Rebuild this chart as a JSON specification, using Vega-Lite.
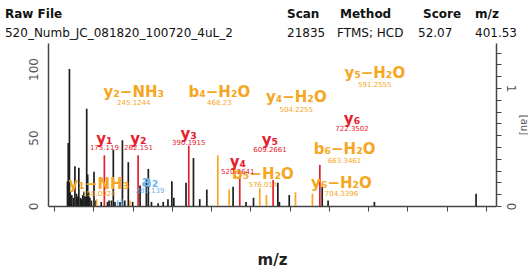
{
  "$schema": "https://vega.github.io/schema/vega-lite/v6.json",
  "width": 448,
  "height": 163,
  "autosize": {"type": "none"},
  "padding": {"left": 48, "top": 43, "right": 32, "bottom": 69},
  "background": "white",
  "config": {"view": {"stroke": null}, "font": "DejaVu Sans"},
  "layer": [
    {
      "layer": [
        {
          "data": {"values": [
            {"mz": 84, "int": 18, "ion": "other"}, {"mz": 86, "int": 46, "ion": "other"}, {"mz": 87, "int": 12, "ion": "other"},
            {"mz": 89, "int": 100, "ion": "other"}, {"mz": 91, "int": 10, "ion": "other"}, {"mz": 95, "int": 8, "ion": "other"},
            {"mz": 99, "int": 6, "ion": "other"}, {"mz": 103, "int": 29, "ion": "other"}, {"mz": 107, "int": 9, "ion": "other"},
            {"mz": 110, "int": 7, "ion": "other"}, {"mz": 113, "int": 28, "ion": "other"}, {"mz": 117, "int": 6, "ion": "other"},
            {"mz": 120, "int": 5, "ion": "other"}, {"mz": 123, "int": 8, "ion": "other"}, {"mz": 126, "int": 10, "ion": "other"},
            {"mz": 129, "int": 7, "ion": "other"}, {"mz": 133, "int": 71, "ion": "other"}, {"mz": 135.5, "int": 23, "ion": "other"},
            {"mz": 138, "int": 10, "ion": "other"}, {"mz": 141, "int": 6, "ion": "other"}, {"mz": 145, "int": 4, "ion": "other"},
            {"mz": 151.6, "int": 25, "ion": "other"}, {"mz": 156, "int": 4, "ion": "other"}, {"mz": 170, "int": 3, "ion": "other"},
            {"mz": 186, "int": 3, "ion": "other"}, {"mz": 190, "int": 4, "ion": "other"}, {"mz": 196, "int": 4, "ion": "other"},
            {"mz": 200.8, "int": 41, "ion": "other"}, {"mz": 205, "int": 3, "ion": "other"}, {"mz": 218, "int": 3, "ion": "other"},
            {"mz": 224, "int": 48, "ion": "other"}, {"mz": 230, "int": 4, "ion": "other"}, {"mz": 239, "int": 32, "ion": "other"},
            {"mz": 250, "int": 3, "ion": "other"}, {"mz": 269, "int": 15, "ion": "other"}, {"mz": 285, "int": 20, "ion": "other"},
            {"mz": 290, "int": 27, "ion": "other"}, {"mz": 298, "int": 3, "ion": "other"}, {"mz": 315, "int": 2, "ion": "other"},
            {"mz": 328, "int": 3, "ion": "other"}, {"mz": 340, "int": 5, "ion": "other"}, {"mz": 350, "int": 18, "ion": "other"},
            {"mz": 355, "int": 6, "ion": "other"}, {"mz": 386, "int": 17, "ion": "other"}, {"mz": 405, "int": 35, "ion": "other"},
            {"mz": 421, "int": 5, "ion": "other"}, {"mz": 439, "int": 12, "ion": "other"}, {"mz": 506, "int": 14, "ion": "other"},
            {"mz": 539, "int": 3, "ion": "other"}, {"mz": 558, "int": 6, "ion": "other"}, {"mz": 620, "int": 17, "ion": "other"},
            {"mz": 624, "int": 3, "ion": "other"}, {"mz": 649, "int": 8, "ion": "other"}, {"mz": 733, "int": 14, "ion": "other"},
            {"mz": 748, "int": 4, "ion": "other"}, {"mz": 866, "int": 3, "ion": "other"}, {"mz": 1125, "int": 9, "ion": "other"},
            {"mz": 158, "int": 5, "ion": "loss"}, {"mz": 243, "int": 4, "ion": "loss"}, {"mz": 467, "int": 37, "ion": "loss"},
            {"mz": 496, "int": 12, "ion": "loss"}, {"mz": 574, "int": 13, "ion": "loss"}, {"mz": 591, "int": 8, "ion": "loss"},
            {"mz": 665, "int": 10, "ion": "loss"}, {"mz": 708, "int": 9, "ion": "loss"},
            {"mz": 212, "int": 4, "ion": "a"}, {"mz": 222, "int": 5, "ion": "a"},
            {"mz": 178, "int": 37, "ion": "y"}, {"mz": 264, "int": 37, "ion": "y"}, {"mz": 393, "int": 44, "ion": "y"},
            {"mz": 523, "int": 21, "ion": "y"}, {"mz": 608, "int": 19, "ion": "y"}, {"mz": 727, "int": 30, "ion": "y"}
          ]},
          "mark": {"type": "rule", "strokeWidth": 1.7},
          "encoding": {
            "x": {"field": "mz", "type": "quantitative", "title": "m/z",
              "scale": {"domain": [34.4, 1175.8], "nice": false, "zero": false},
              "axis": {"values": [50,100,150,200,250,300,350,400,450,500,550,600,650,700,750,800,850,900,950,1000,1050,1100,1150],
                "labelExpr": "datum.value % 200 == 0 ? datum.label : ''", "format": "d",
                "grid": false, "tickSize": 5, "tickColor": "#444", "domainColor": "#444", "domainWidth": 1.5,
                "labelColor": "#555", "labelFontSize": 12, "labelPadding": 3,
                "titleFontSize": 15, "titleFontWeight": "bold", "titleColor": "#222", "titlePadding": 27}},
            "y": {"field": "int", "type": "quantitative", "title": "",
              "scale": {"domain": [0, 119], "nice": false},
              "axis": {"values": [0, 50, 100], "grid": false, "tickSize": 0, "domainColor": "#444", "domainWidth": 1.5,
                "labelAngle": -90, "labelAlign": "center", "labelBaseline": "bottom", "labelPadding": 8,
                "labelColor": "#555", "labelFontSize": 12}},
            "y2": {"datum": 0},
            "color": {"field": "ion", "type": "nominal", "legend": null,
              "scale": {"domain": ["other", "loss", "a", "y"], "range": ["#1e1e1e", "#f5a623", "#6bb6e6", "#e5202e"]}}
          }
        },
        {
          "data": {"values": [
            {"label": "y₂−NH₃", "mz": 253, "int": 83, "ion": "loss"},
            {"label": "b₄−H₂O", "mz": 471, "int": 83, "ion": "loss"},
            {"label": "y₄−H₂O", "mz": 667, "int": 79.5, "ion": "loss"},
            {"label": "y₅−H₂O", "mz": 867, "int": 97, "ion": "loss"},
            {"label": "b₅−H₂O", "mz": 582, "int": 23.4, "ion": "loss"},
            {"label": "b₆−H₂O", "mz": 790, "int": 41.7, "ion": "loss"},
            {"label": "y₆−H₂O", "mz": 782, "int": 17, "ion": "loss"},
            {"label": "y₁−NH₃", "mz": 164, "int": 16, "ion": "loss"},
            {"label": "a₂", "mz": 294, "int": 17.8, "ion": "a"},
            {"label": "y₁", "mz": 178, "int": 48.7, "ion": "y"},
            {"label": "y₂", "mz": 265, "int": 48.7, "ion": "y"},
            {"label": "y₃", "mz": 393, "int": 52.6, "ion": "y"},
            {"label": "y₄", "mz": 518, "int": 32, "ion": "y"},
            {"label": "y₅", "mz": 600, "int": 48, "ion": "y"},
            {"label": "y₆", "mz": 809, "int": 63.6, "ion": "y"}
          ]},
          "mark": {"type": "text", "fontSize": 15, "fontWeight": "bold", "align": "center", "baseline": "middle"},
          "encoding": {
            "x": {"field": "mz", "type": "quantitative", "title": "m/z"},
            "y": {"field": "int", "type": "quantitative", "title": ""},
            "text": {"field": "label"},
            "color": {"field": "ion", "type": "nominal", "legend": null}
          }
        },
        {
          "data": {"values": [
            {"label": "245.1244", "mz": 253, "int": 75, "ion": "loss"},
            {"label": "468.23", "mz": 471, "int": 75, "ion": "loss"},
            {"label": "504.2255", "mz": 667, "int": 70, "ion": "loss"},
            {"label": "591.2555", "mz": 867, "int": 88, "ion": "loss"},
            {"label": "576.014", "mz": 582, "int": 15, "ion": "loss"},
            {"label": "663.3461", "mz": 790, "int": 33, "ion": "loss"},
            {"label": "704.3396", "mz": 782, "int": 9, "ion": "loss"},
            {"label": "158.0924", "mz": 164, "int": 9, "ion": "loss"},
            {"label": "289.139", "mz": 294, "int": 11, "ion": "a"},
            {"label": "175.119", "mz": 178, "int": 42, "ion": "y"},
            {"label": "262.151", "mz": 265, "int": 42, "ion": "y"},
            {"label": "390.1915", "mz": 393, "int": 46, "ion": "y"},
            {"label": "520.2641", "mz": 518, "int": 25, "ion": "y"},
            {"label": "609.2661", "mz": 600, "int": 41, "ion": "y"},
            {"label": "722.3502", "mz": 809, "int": 56, "ion": "y"}
          ]},
          "mark": {"type": "text", "fontSize": 7, "align": "center", "baseline": "middle"},
          "encoding": {
            "x": {"field": "mz", "type": "quantitative", "title": "m/z"},
            "y": {"field": "int", "type": "quantitative", "title": ""},
            "text": {"field": "label"},
            "color": {"field": "ion", "type": "nominal", "legend": null}
          }
        },
        {
          "data": {"values": [
            {"label": "Raw File", "mz": -75.2, "int": 140},
            {"label": "Scan", "mz": 643.3, "int": 140},
            {"label": "Method", "mz": 778.4, "int": 140},
            {"label": "Score", "mz": 989.8, "int": 140},
            {"label": "m/z", "mz": 1122.3, "int": 140}
          ]},
          "mark": {"type": "text", "fontSize": 12, "fontWeight": "bold", "align": "left", "baseline": "middle", "color": "#111"},
          "encoding": {
            "x": {"field": "mz", "type": "quantitative", "title": "m/z"},
            "y": {"field": "int", "type": "quantitative", "title": ""},
            "text": {"field": "label"}
          }
        },
        {
          "data": {"values": [
            {"label": "520_Numb_JC_081820_100720_4uL_2", "mz": -75.2, "int": 126},
            {"label": "21835", "mz": 643.3, "int": 126},
            {"label": "FTMS; HCD", "mz": 770.7, "int": 126},
            {"label": "52.07", "mz": 977.1, "int": 126},
            {"label": "401.53", "mz": 1122.3, "int": 126}
          ]},
          "mark": {"type": "text", "fontSize": 12, "align": "left", "baseline": "middle", "color": "#111"},
          "encoding": {
            "x": {"field": "mz", "type": "quantitative", "title": "m/z"},
            "y": {"field": "int", "type": "quantitative", "title": ""},
            "text": {"field": "label"}
          }
        }
      ]
    },
    {
      "data": {"values": [{"au": 0}]},
      "mark": {"type": "rule", "opacity": 0},
      "encoding": {
        "y": {"field": "au", "type": "quantitative",
          "scale": {"domain": [0, 1.381], "nice": false},
          "axis": {"orient": "right", "values": [0,0.1,0.2,0.3,0.4,0.5,0.6,0.7,0.8,0.9,1,1.1,1.2,1.3],
            "labelExpr": "datum.value == 0 ? '0' : datum.value == 1 ? '1' : ''",
            "grid": false, "tickSize": 5, "tickColor": "#444", "domainColor": "#444", "domainWidth": 1.5,
            "labelAngle": 90, "labelAlign": "center", "labelBaseline": "bottom", "labelPadding": 2,
            "labelColor": "#555", "labelFontSize": 12,
            "title": "[au]", "titleAngle": 90, "titleFontSize": 10, "titleFontWeight": "normal", "titleColor": "#555", "titlePadding": 2}}
      }
    }
  ],
  "resolve": {"scale": {"y": "independent"}, "axis": {"y": "independent"}}
}
